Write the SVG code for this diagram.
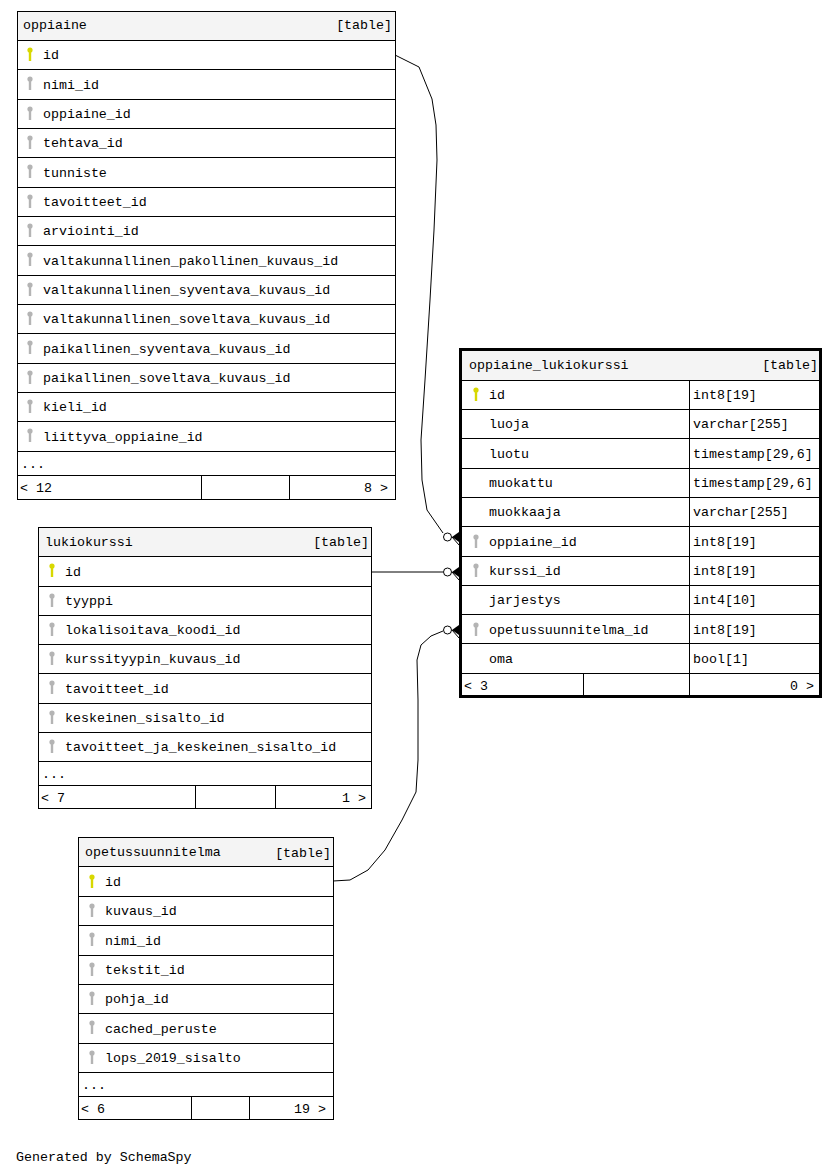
<svg xmlns="http://www.w3.org/2000/svg" width="839" height="1175" viewBox="0 0 839 1175">
<defs>
<style>
text{font-family:"Liberation Mono","DejaVu Sans Mono",monospace;font-size:13.3px;fill:#000}
.r{text-anchor:end}
.box{fill:#fff;stroke:#000;stroke-width:1}
.hd{fill:#f4f4f4;stroke:#000;stroke-width:1}
.ln{stroke:#000;stroke-width:1;fill:none}
.conn{stroke:#000;stroke-width:1;fill:none}
.pk{fill:#d8d800}
.fk{fill:#b4b4b4}
</style>
<g id="keyPK"><circle cx="0" cy="3" r="2.6" class="pk"/><rect x="-1.2" y="4" width="2.4" height="10" class="pk"/></g>
<g id="keyFK"><circle cx="0" cy="3" r="2.6" class="fk"/><rect x="-1.2" y="4" width="2.4" height="10" class="fk"/></g>
</defs>
<rect width="839" height="1175" fill="#fff"/>

<g id="connectors">
<path class="conn" d="M395,55 L419,67 L432,99 L436,125 L437,160 L434,230 L430,300 L425,380 L421,440 L422,480 L427,510 L443,533"/>
<circle cx="447.5" cy="537" r="4" fill="#fff" stroke="#000"/>
<path d="M452,537 L459,532 L459,542 Z" fill="#000"/>
<line class="conn" x1="452" y1="537" x2="459" y2="545"/>
<line class="conn" x1="372" y1="572" x2="443" y2="572"/>
<circle cx="447.5" cy="572" r="4" fill="#fff" stroke="#000"/>
<path d="M452,572 L459,567 L459,577 Z" fill="#000"/>
<line class="conn" x1="452" y1="572" x2="459" y2="580"/>
<path class="conn" d="M333,881 L350,880 L368,870 L385,850 L402,820 L416,792 L418,760 L418,700 L417,660 L421,645 L431,636 L443,631"/>
<circle cx="447.5" cy="630" r="4" fill="#fff" stroke="#000"/>
<path d="M452,630 L459,625 L459,635 Z" fill="#000"/>
<line class="conn" x1="452" y1="630" x2="459" y2="638"/>
</g>

<g id="oppiaine">
<rect class="box" x="17.5" y="11.5" width="378" height="488"/>
<rect class="hd" x="17.5" y="11.5" width="378" height="29"/>
<text x="23" y="29">oppiaine</text>
<text class="r" x="392" y="29">[table]</text>
<path class="ln" d="M17,69.5H395M17,99.5H395M17,128.5H395M17,157.5H395M17,187.5H395M17,216.5H395M17,245.5H395M17,275.5H395M17,304.5H395M17,333.5H395M17,363.5H395M17,392.5H395M17,421.5H395M17,451.5H395M17,475.5H395M201.5,475V499M289.5,475V499"/>
<use href="#keyPK" x="30" y="47"/>
<use href="#keyFK" x="30" y="76"/>
<use href="#keyFK" x="30" y="106"/>
<use href="#keyFK" x="30" y="135"/>
<use href="#keyFK" x="30" y="164"/>
<use href="#keyFK" x="30" y="194"/>
<use href="#keyFK" x="30" y="223"/>
<use href="#keyFK" x="30" y="252"/>
<use href="#keyFK" x="30" y="282"/>
<use href="#keyFK" x="30" y="311"/>
<use href="#keyFK" x="30" y="340"/>
<use href="#keyFK" x="30" y="370"/>
<use href="#keyFK" x="30" y="399"/>
<use href="#keyFK" x="30" y="428"/>
<text x="43" y="59">id</text>
<text x="43" y="89">nimi_id</text>
<text x="43" y="118">oppiaine_id</text>
<text x="43" y="147">tehtava_id</text>
<text x="43" y="177">tunniste</text>
<text x="43" y="206">tavoitteet_id</text>
<text x="43" y="235">arviointi_id</text>
<text x="43" y="265">valtakunnallinen_pakollinen_kuvaus_id</text>
<text x="43" y="294">valtakunnallinen_syventava_kuvaus_id</text>
<text x="43" y="323">valtakunnallinen_soveltava_kuvaus_id</text>
<text x="43" y="353">paikallinen_syventava_kuvaus_id</text>
<text x="43" y="382">paikallinen_soveltava_kuvaus_id</text>
<text x="43" y="411">kieli_id</text>
<text x="43" y="441">liittyva_oppiaine_id</text>
<text x="21" y="468">...</text>
<text x="20" y="492">&lt; 12</text>
<text class="r" x="388" y="492">8 &gt;</text>
</g>

<g id="oppiaine_lukiokurssi">
<rect class="box" x="460.5" y="349.5" width="360" height="347" style="stroke-width:3"/>
<rect x="462" y="351" width="357" height="29" fill="#f4f4f4"/>
<path class="ln" d="M462,380.5H819M462,409.5H819M462,438.5H819M462,468.5H819M462,497.5H819M462,526.5H819M462,556.5H819M462,585.5H819M462,614.5H819M462,643.5H819M462,673.5H819M689.5,380V695M583.5,673V695"/>
<text x="469" y="369">oppiaine_lukiokurssi</text>
<text class="r" x="818" y="369">[table]</text>
<use href="#keyPK" x="476" y="387"/>
<use href="#keyFK" x="476" y="534"/>
<use href="#keyFK" x="476" y="563"/>
<use href="#keyFK" x="476" y="622"/>
<text x="489" y="399">id</text>
<text x="489" y="428">luoja</text>
<text x="489" y="458">luotu</text>
<text x="489" y="487">muokattu</text>
<text x="489" y="516">muokkaaja</text>
<text x="489" y="546">oppiaine_id</text>
<text x="489" y="575">kurssi_id</text>
<text x="489" y="604">jarjestys</text>
<text x="489" y="634">opetussuunnitelma_id</text>
<text x="489" y="663">oma</text>
<text x="693" y="399">int8[19]</text>
<text x="693" y="428">varchar[255]</text>
<text x="693" y="458">timestamp[29,6]</text>
<text x="693" y="487">timestamp[29,6]</text>
<text x="693" y="516">varchar[255]</text>
<text x="693" y="546">int8[19]</text>
<text x="693" y="575">int8[19]</text>
<text x="693" y="604">int4[10]</text>
<text x="693" y="634">int8[19]</text>
<text x="693" y="663">bool[1]</text>
<text x="464" y="690">&lt; 3</text>
<text class="r" x="814" y="690">0 &gt;</text>
</g>

<g id="lukiokurssi">
<rect class="box" x="38.5" y="527.5" width="333" height="281"/>
<rect class="hd" x="38.5" y="527.5" width="333" height="29"/>
<text x="45" y="546">lukiokurssi</text>
<text class="r" x="369" y="546">[table]</text>
<path class="ln" d="M38,586.5H371M38,615.5H371M38,644.5H371M38,673.5H371M38,703.5H371M38,732.5H371M38,761.5H371M38,785.5H371M195.5,785V809M275.5,785V809"/>
<use href="#keyPK" x="52" y="563"/>
<use href="#keyFK" x="52" y="593"/>
<use href="#keyFK" x="52" y="622"/>
<use href="#keyFK" x="52" y="651"/>
<use href="#keyFK" x="52" y="680"/>
<use href="#keyFK" x="52" y="710"/>
<use href="#keyFK" x="52" y="739"/>
<text x="65" y="576">id</text>
<text x="65" y="605">tyyppi</text>
<text x="65" y="634">lokalisoitava_koodi_id</text>
<text x="65" y="663">kurssityypin_kuvaus_id</text>
<text x="65" y="693">tavoitteet_id</text>
<text x="65" y="722">keskeinen_sisalto_id</text>
<text x="65" y="751">tavoitteet_ja_keskeinen_sisalto_id</text>
<text x="42" y="778">...</text>
<text x="41" y="802">&lt; 7</text>
<text class="r" x="366" y="802">1 &gt;</text>
</g>

<g id="opetussuunnitelma">
<rect class="box" x="78.5" y="837.5" width="255" height="282"/>
<rect class="hd" x="78.5" y="837.5" width="255" height="29"/>
<text x="85" y="856">opetussuunnitelma</text>
<text class="r" x="331" y="857">[table]</text>
<path class="ln" d="M78,896.5H333M78,925.5H333M78,955.5H333M78,984.5H333M78,1013.5H333M78,1043.5H333M78,1072.5H333M78,1096.5H333M191.5,1096V1120M249.5,1096V1120"/>
<use href="#keyPK" x="92" y="874"/>
<use href="#keyFK" x="92" y="903"/>
<use href="#keyFK" x="92" y="932"/>
<use href="#keyFK" x="92" y="962"/>
<use href="#keyFK" x="92" y="991"/>
<use href="#keyFK" x="92" y="1020"/>
<use href="#keyFK" x="92" y="1050"/>
<text x="105" y="886">id</text>
<text x="105" y="915">kuvaus_id</text>
<text x="105" y="945">nimi_id</text>
<text x="105" y="974">tekstit_id</text>
<text x="105" y="1003">pohja_id</text>
<text x="105" y="1033">cached_peruste</text>
<text x="105" y="1062">lops_2019_sisalto</text>
<text x="82" y="1089">...</text>
<text x="81" y="1113">&lt; 6</text>
<text class="r" x="326" y="1113">19 &gt;</text>
</g>

<text x="16" y="1161">Generated by SchemaSpy</text>
</svg>
